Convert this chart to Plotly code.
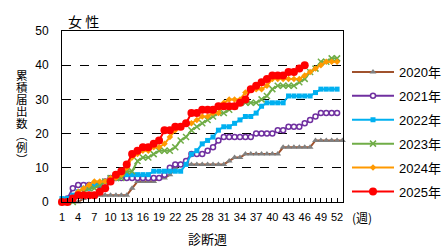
import plotly.graph_objects as go

weeks = list(range(1, 54))

y2020 = [0, 0, 0, 0, 1, 2, 2, 2, 2, 2, 2, 2, 2, 4, 6, 6, 6, 6, 7, 7, 8, 10,
         11, 11, 11, 11, 11, 11, 11, 11, 11, 12, 13, 13, 14, 14, 14, 14, 14, 14, 14,
         16, 16, 16, 16, 16, 16, 18, 18, 18, 18, 18, 18]
y2021 = [0, 1, 4, 5, 5, 5, 5, 5, 6, 7, 7, 7, 7, 7, 7, 7, 7, 7, 7, 8, 10, 11, 11, 12,
         14, 14, 14, 15, 16, 18, 19, 19, 19, 19, 19, 19, 20, 20, 20, 20, 21, 21,
         22, 22, 22, 23, 24, 25, 26, 26, 26, 26]
y2022 = [1, 1, 2, 3, 4, 4, 5, 5, 6, 6, 7, 8, 8, 8, 8, 8, 8, 9, 9, 9, 9, 9, 9, 11,
         14, 15, 17, 18, 19, 21, 22, 22, 23, 24, 25, 25, 26, 28, 29, 29, 29, 29,
         31, 31, 31, 31, 31, 32, 33, 33, 33, 33]
y2023 = [0, 0, 0, 2, 3, 4, 4, 5, 6, 7, 7, 7, 9, 9, 12, 13, 13, 14, 15, 15, 15, 16,
         18, 19, 21, 22, 23, 24, 25, 26, 26, 27, 28, 29, 29, 29, 29, 30, 31, 33, 34,
         34, 34, 34, 35, 36, 38, 39, 41, 41, 42, 42]
y2024 = [0, 0, 1, 3, 4, 5, 6, 6, 6, 7, 7, 8, 10, 13, 14, 15, 15, 16, 16, 17, 19, 21,
         22, 23, 23, 24, 25, 25, 26, 26, 29, 30, 30, 30, 32, 33, 33, 33, 34, 36, 36,
         36, 36, 36, 36, 37, 38, 39, 40, 41, 41, 41]
y2025 = [0, 0, 1, 2, 2, 2, 2, 3, 4, 6, 8, 9, 11, 14, 15, 16, 16, 17, 18, 21, 21, 22,
         22, 23, 26, 26, 27, 27, 27, 28, 28, 28, 28, 29, 30, 33, 34, 35, 36, 37, 37,
         37, 38, 38, 39, 40]

series_names = ["2020年", "2021年", "2022年", "2023年", "2024年", "2025年"]
x_tick_vals = weeks
x_tick_text = [str(w) if (w - 1) % 3 == 0 else "" for w in weeks]
y_tick_vals = [0, 10, 20, 30, 40, 50]
ytitle_chars = ["累", "積", "届", "出", "数", "︵", "例", "︶"]

styles = [
    dict(line=dict(color="#A0522D", width=2),
         marker=dict(symbol="triangle-up", size=6, color="#808080")),
    dict(line=dict(color="#7030A0", width=2),
         marker=dict(symbol="circle", size=5, color="white",
                     line=dict(color="#7030A0", width=1.5))),
    dict(line=dict(color="#00B0F0", width=2),
         marker=dict(symbol="square", size=5, color="#00B0F0")),
    dict(line=dict(color="#70AD47", width=2),
         marker=dict(symbol="x-thin", size=6, color="#70AD47",
                     line=dict(color="#70AD47", width=1.5))),
    dict(line=dict(color="#FF9900", width=2),
         marker=dict(symbol="diamond", size=5, color="#FF9900")),
    dict(line=dict(color="#FF0000", width=2),
         marker=dict(symbol="circle", size=8, color="#FF0000")),
]

data = [y2020, y2021, y2022, y2023, y2024, y2025]

fig = go.Figure()
for name, ys, st in zip(series_names, data, styles):
    fig.add_trace(go.Scatter(
        x=weeks[:len(ys)], y=ys, name=name, mode="lines+markers",
        line=st["line"], marker=st["marker"], cliponaxis=False,
        legendgroup=name,
    ))

L, R, T, B = 62, 343, 31, 202
W, H = 445, 251


def xp(px):
    return (px - L) / (R - L)


def yp(py):
    return (B - py) / (B - T)


font_family = "Liberation Sans, Arial, Noto Sans CJK JP"
jp_font = "Noto Sans CJK JP, sans-serif"


def label(text, px, py, size):
    return dict(text=text, x=xp(px), y=yp(py), xref="paper", yref="paper",
                xanchor="center", yanchor="middle", showarrow=False,
                font=dict(size=size, color="black", family=jp_font))


ytitle_text = "<br>".join('<span style="font-size:11.5px">%s</span>' % c for c in ytitle_chars)

annotations = [
    label("女 性", 83, 21, 14),
    label("診断週", 207, 238, 13),
    label("(週)", 362, 217, 12),
    label(ytitle_text, 22, 117, 9.2),
]

fig.update_layout(
    width=W, height=H,
    margin=dict(l=L, r=W - R, t=T, b=H - B, autoexpand=False),
    paper_bgcolor="white", plot_bgcolor="white",
    showlegend=True,
    legend=dict(x=xp(347), y=yp(57), xanchor="left", yanchor="top",
                font=dict(size=13, color="black", family=font_family),
                tracegroupgap=4, itemwidth=42, bgcolor="rgba(0,0,0,0)"),
    annotations=annotations,
    font=dict(family=font_family, color="black"),
)
fig.update_xaxes(
    range=[1, 53.1], tickvals=x_tick_vals, ticktext=x_tick_text,
    ticks="inside", ticklen=4, tickcolor="black", tickwidth=1,
    showline=True, linecolor="black", linewidth=1, mirror=True,
    showgrid=False, zeroline=False, ticklabelstandoff=5,
    tickfont=dict(size=11, color="black", family=font_family),
)
fig.update_yaxes(
    range=[0, 50], tickvals=y_tick_vals,
    ticks="", showline=True, linecolor="black", linewidth=1, mirror=True,
    showgrid=True, gridcolor="black", gridwidth=1, griddash="dash",
    zeroline=False, ticklabelstandoff=10,
    tickfont=dict(size=12, color="black", family=font_family),
)

fig.write_html("out.html")
